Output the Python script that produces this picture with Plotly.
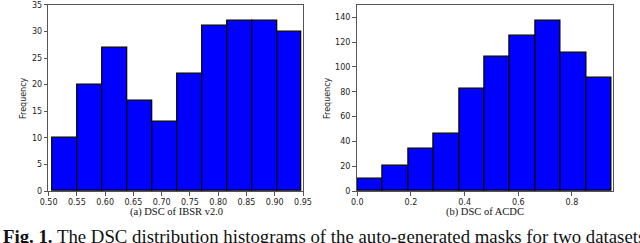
import plotly.graph_objects as go

# ---- data ----
ibsr_counts = [10, 20, 27, 17, 13, 22, 31, 32, 32, 30]
ibsr_bin_start = 0.5073
ibsr_bin_width = 0.04404
ibsr_ticks = [0.50, 0.55, 0.60, 0.65, 0.70, 0.75, 0.80, 0.85, 0.90, 0.95]
ibsr_yticks = [0, 5, 10, 15, 20, 25, 30, 35]

acdc_counts = [10, 20, 34, 46, 82, 108, 125, 137, 111, 91]
acdc_bin_start = 0.0
acdc_bin_width = 0.0948
acdc_ticks = [0.0, 0.2, 0.4, 0.6, 0.8]
acdc_yticks = [0, 20, 40, 60, 80, 100, 120, 140]

title_a = "(a) DSC of IBSR v2.0"
title_b = "(b) DSC of ACDC"
y_title = "Frequency"
caption = "<b>Fig. 1.</b> The DSC distribution histograms of the auto-generated masks for two datasets"

W, H = 640, 243


def centers(start, width, n):
    return [start + width * (i + 0.5) for i in range(n)]


fig = go.Figure()
bar_style = dict(marker=dict(color="#0000ff", line=dict(color="black", width=1.2)),
                 showlegend=False, hoverinfo="skip")
fig.add_trace(go.Bar(x=centers(ibsr_bin_start, ibsr_bin_width, len(ibsr_counts)),
                     y=ibsr_counts, width=ibsr_bin_width, xaxis="x", yaxis="y", **bar_style))
fig.add_trace(go.Bar(x=centers(acdc_bin_start, acdc_bin_width, len(acdc_counts)),
                     y=acdc_counts, width=acdc_bin_width, xaxis="x2", yaxis="y2", **bar_style))

def px_x(p):
    return p / W

def px_y(p):
    return 1 - p / H

ydom = [px_y(191), px_y(4.8)]
tickfont = dict(family="DejaVu Sans", size=8, color="#222")
axis_common = dict(showline=True, linecolor="#555", linewidth=1, mirror=True,
                   ticks="outside", ticklen=3.5, tickwidth=1, tickcolor="#555",
                   showgrid=False, zeroline=False, tickfont=tickfont, automargin=False)

fig.update_layout(
    width=W, height=H, margin=dict(l=0, r=0, t=0, b=0),
    paper_bgcolor="white", plot_bgcolor="white", bargap=0,
    xaxis=dict(domain=[px_x(48.3), px_x(303.3)], range=[0.4995, 0.9505],
               tickvals=ibsr_ticks, tickformat=".2f", anchor="y", **axis_common),
    yaxis=dict(domain=ydom, range=[0, 35], tickvals=ibsr_yticks, anchor="x", **axis_common),
    xaxis2=dict(domain=[px_x(356.5), px_x(613)], range=[-0.003, 0.953],
                tickvals=acdc_ticks, tickformat=".1f", anchor="y2", **axis_common),
    yaxis2=dict(domain=ydom, range=[0, 150], tickvals=acdc_yticks, anchor="x2", **axis_common),
)

serif = "Liberation Serif"
ann = []
ann.append(dict(text=title_a, x=px_x(176), y=px_y(212), xref="paper", yref="paper",
                showarrow=False, xanchor="center", yanchor="middle",
                font=dict(family=serif, size=10.5, color="#111")))
ann.append(dict(text=title_b, x=px_x(485), y=px_y(212), xref="paper", yref="paper",
                showarrow=False, xanchor="center", yanchor="middle",
                font=dict(family=serif, size=10.5, color="#111")))
for xc in (24, 328):
    ann.append(dict(text=y_title, x=px_x(xc), y=px_y(98), xref="paper", yref="paper",
                    showarrow=False, xanchor="center", yanchor="middle", textangle=-90,
                    font=dict(family="DejaVu Sans", size=8, color="#222")))
ann.append(dict(text=caption, x=px_x(1), y=px_y(236.5), xref="paper", yref="paper",
                showarrow=False, xanchor="left", yanchor="middle",
                font=dict(family=serif, size=18.8, color="#111")))
fig.update_layout(annotations=ann)

fig.write_html("out.html", config={"displayModeBar": False},
               post_script="document.body.style.margin='0';document.body.style.overflow='hidden';")
